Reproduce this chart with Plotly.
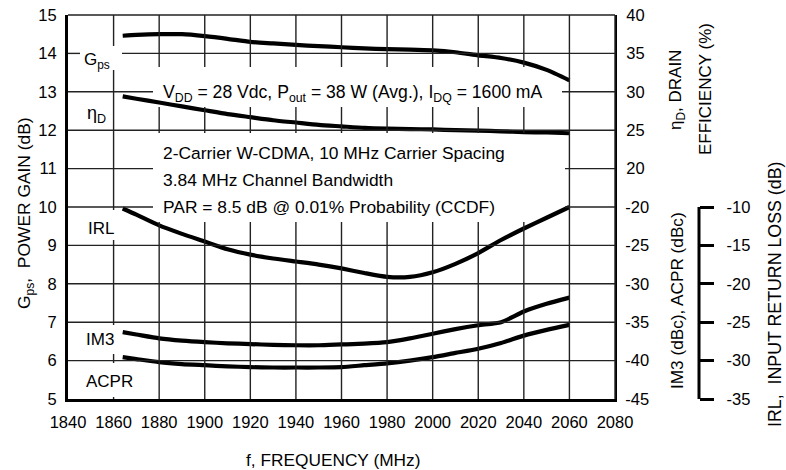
import plotly.graph_objects as go

# ---- data ----
freq = [1864, 1870, 1880, 1890, 1900, 1910, 1920, 1930, 1940, 1950, 1960,
        1970, 1980, 1990, 2000, 2010, 2020, 2030, 2040, 2050, 2060]
gps = [14.46, 14.48, 14.50, 14.50, 14.45, 14.38, 14.30, 14.26, 14.22, 14.19, 14.16,
       14.13, 14.11, 14.10, 14.08, 14.03, 13.95, 13.88, 13.76, 13.57, 13.30]
eff = [29.4, 29.1, 28.6, 28.1, 27.6, 27.1, 26.7, 26.3, 26.0, 25.7, 25.5,
       25.3, 25.2, 25.15, 25.1, 25.0, 24.95, 24.85, 24.75, 24.7, 24.6]
irl = [-10.2, -11.0, -12.4, -13.5, -14.5, -15.5, -16.2, -16.7, -17.1, -17.5, -18.0,
       -18.6, -19.1, -19.1, -18.5, -17.4, -16.0, -14.3, -12.8, -11.4, -10.0]
im3 = [-36.3, -36.6, -37.1, -37.4, -37.6, -37.75, -37.85, -37.95, -38.0, -38.0, -37.9,
       -37.8, -37.6, -37.1, -36.5, -35.9, -35.4, -35.0, -33.6, -32.6, -31.8]
acpr = [-39.55, -39.8, -40.2, -40.45, -40.6, -40.75, -40.85, -40.9, -40.9, -40.9, -40.85,
        -40.6, -40.35, -40.0, -39.55, -39.0, -38.45, -37.7, -36.75, -36.0, -35.35]

x_ticks = [1840, 1860, 1880, 1900, 1920, 1940, 1960, 1980, 2000, 2020, 2040, 2060, 2080]
gain_ticks = [5, 6, 7, 8, 9, 10, 11, 12, 13, 14, 15]
eff_ticks = [20, 25, 30, 35, 40]
imd_ticks = [-45, -40, -35, -30, -25, -20]
irl_ticks = [-35, -30, -25, -20, -15, -10]

FONT = "Liberation Sans, Arial, sans-serif"
TFS = 16.5   # tick labels
AFS = 17.4   # annotations / titles
LW = 4.2
NB = "\u00a0"

fig = go.Figure()
fig.add_trace(go.Scatter(x=freq, y=gps, mode="lines", yaxis="y",
                         line=dict(color="black", width=LW, shape="spline", smoothing=0.6)))
fig.add_trace(go.Scatter(x=freq, y=eff, mode="lines", yaxis="y2",
                         line=dict(color="black", width=LW, shape="spline", smoothing=0.6)))
fig.add_trace(go.Scatter(x=freq, y=im3, mode="lines", yaxis="y3",
                         line=dict(color="black", width=LW, shape="spline", smoothing=0.6)))
fig.add_trace(go.Scatter(x=freq, y=acpr, mode="lines", yaxis="y3",
                         line=dict(color="black", width=LW, shape="spline", smoothing=0.6)))
fig.add_trace(go.Scatter(x=freq, y=irl, mode="lines", yaxis="y4",
                         line=dict(color="black", width=LW, shape="spline", smoothing=0.6)))

W, H = 786, 470
L, R, T, B = 68, 71, 15, 71
plot_right = 615
xdom = (plot_right - L) / (W - L - R)
irl_pos = (699 - L) / (W - L - R)

def px(xp):
    return (xp - L) / (W - L - R)

def py(yp):
    return (H - B - yp) / (H - T - B)

def labels(vals, prefix=""):
    return [prefix + str(v) for v in vals]

grid = "#222222"
clear = "rgba(0,0,0,0)"
tf = dict(family=FONT, size=TFS, color="black")
fig.update_layout(
    width=W, height=H,
    margin=dict(l=L, r=R, t=T, b=B, autoexpand=False),
    paper_bgcolor="white", plot_bgcolor="white",
    showlegend=False,
    font=dict(family=FONT, size=AFS, color="black"),
    xaxis=dict(domain=[0, xdom], range=[x_ticks[0], x_ticks[-1]], tickmode="array",
               tickvals=x_ticks, ticktext=labels(x_ticks), showgrid=False,
               showline=True, linecolor="black", linewidth=3,
               ticks="outside", ticklen=6, tickcolor=clear, zeroline=False, tickfont=tf),
    yaxis=dict(range=[gain_ticks[0], gain_ticks[-1]], tickmode="array", tickvals=gain_ticks,
               ticktext=labels(gain_ticks), showgrid=False,
               showline=True, linecolor="black", linewidth=3,
               ticks="outside", ticklen=5, tickcolor=clear, zeroline=False, tickfont=tf),
    yaxis2=dict(overlaying="y", side="right", anchor="x", range=[-10, 40], tickmode="array",
                tickvals=eff_ticks, ticktext=labels(eff_ticks), showgrid=False, zeroline=False,
                showline=True, linecolor="black", linewidth=2,
                ticks="outside", ticklen=6, tickcolor=clear, tickfont=tf),
    yaxis3=dict(overlaying="y", side="right", anchor="x", range=[-45, 5], tickmode="array",
                tickvals=imd_ticks, ticktext=labels(imd_ticks), showgrid=False, zeroline=False,
                showline=False, ticks="outside", ticklen=6, tickcolor=clear, tickfont=tf),
    yaxis4=dict(overlaying="y", side="right", anchor="free", position=irl_pos,
                range=[-35, 15], tickmode="array", tickvals=irl_ticks,
                ticktext=labels(irl_ticks, NB + NB),
                showgrid=False, zeroline=False,
                showline=False, ticks="outside", ticklen=14, tickwidth=3,
                tickcolor="black", tickfont=tf),
)

# converters: data value -> paper fraction, pixel -> data value
def xp_of(v):
    return (v - x_ticks[0]) / (x_ticks[-1] - x_ticks[0]) * xdom

def yp_of(v):
    return (v - gain_ticks[0]) / (gain_ticks[-1] - gain_ticks[0])

def xd(xpix):
    return 1840 + (xpix - L) / (plot_right - L) * 240

def yd(ypix):
    return 15 - (ypix - 15) / (399 - 15) * 10

# regions kept clear of grid lines behind the texts (pixel boxes -> data units)
boxes_px = [(153, 67, 562, 107), (153, 133, 565, 222),
            (80, 46, 122, 70), (78, 210, 120, 240), (78, 325, 120, 354), (78, 363, 136, 397)]
boxes = [(xd(a), xd(c), yd(d), yd(b)) for (a, b, c, d) in boxes_px]

def cut(lo, hi, holes):
    segs = [(lo, hi)]
    for (h0, h1) in sorted(holes):
        new = []
        for (s0, s1) in segs:
            if h1 <= s0 or h0 >= s1:
                new.append((s0, s1))
            else:
                if h0 > s0:
                    new.append((s0, h0))
                if h1 < s1:
                    new.append((h1, s1))
        segs = new
    return segs

# grid lines at every tick of the main axes, interrupted behind the texts
for xv in x_ticks[1:]:
    holes = [(b[2], b[3]) for b in boxes if b[0] < xv < b[1]]
    for (s0, s1) in cut(gain_ticks[0], gain_ticks[-1], holes):
        fig.add_shape(type="line", xref="paper", yref="paper",
                      x0=xp_of(xv), x1=xp_of(xv), y0=yp_of(s0), y1=yp_of(s1),
                      line=dict(color=grid, width=1.4), layer="above")
for yv in gain_ticks[1:]:
    holes = [(b[0], b[1]) for b in boxes if b[2] < yv < b[3]]
    for (s0, s1) in cut(x_ticks[0], x_ticks[-1], holes):
        fig.add_shape(type="line", xref="paper", yref="paper",
                      x0=xp_of(s0), x1=xp_of(s1), y0=yp_of(yv), y1=yp_of(yv),
                      line=dict(color=grid, width=1.6 if yv == gain_ticks[-1] else 1.4),
                      layer="above")

# bracket of the IRL axis
fig.add_shape(type="line", xref="paper", yref="y4", x0=irl_pos, x1=irl_pos,
              y0=irl_ticks[0], y1=irl_ticks[-1], line=dict(color="black", width=3))

def ann(text, x, y, xanchor="left", yanchor="middle", angle=0, xref="x", yref="y", size=AFS):
    fig.add_annotation(text=text, x=x, y=y, xref=xref, yref=yref, xanchor=xanchor,
                       yanchor=yanchor, textangle=angle, showarrow=False,
                       font=dict(family=FONT, size=size, color="black"))

# curve labels
ann("G<sub>ps</sub>", xd(82), yd(61), size=17)
ann("η<sub>D</sub>", xd(85), yd(114), size=18)
ann("IRL", xd(86), yd(228), size=17)
ann("IM3", xd(84), yd(339), size=17)
ann("ACPR", xd(84), yd(381), size=17)

# condition texts
ann("V<sub>DD</sub> = 28 Vdc, P<sub>out</sub> = 38 W (Avg.), I<sub>DQ</sub> = 1600 mA", xd(161), yd(93),
    size=17.6)
ann("2-Carrier W-CDMA, 10 MHz Carrier Spacing", xd(161), yd(153))
ann("3.84 MHz Channel Bandwidth", xd(161), yd(180))
ann("PAR = 8.5 dB @ 0.01% Probability (CCDF)", xd(161), yd(207))

# axis titles
ann("f, FREQUENCY (MHz)", px(333), py(460), xanchor="center", xref="paper", yref="paper", size=17.3)
ann("G<sub>ps</sub>,  POWER GAIN (dB)", px(25), py(213), xanchor="center", angle=-90,
    xref="paper", yref="paper")
ann("η<sub>D</sub>, DRAIN", px(677), py(90), xanchor="center", angle=-90, xref="paper", yref="paper", size=17)
ann("EFFICIENCY (%)", px(705), py(89), xanchor="center", angle=-90, xref="paper", yref="paper", size=17)
ann("IM3 (dBc), ACPR (dBc)", px(677), py(301), xanchor="center", angle=-90,
    xref="paper", yref="paper", size=17.2)
ann("IRL,  INPUT RETURN LOSS (dB)", px(775), py(295), xanchor="center", angle=-90,
    xref="paper", yref="paper", size=17.8)

fig.write_html("out.html", config={"displayModeBar": False},
               post_script="document.body.style.margin='0px';")
